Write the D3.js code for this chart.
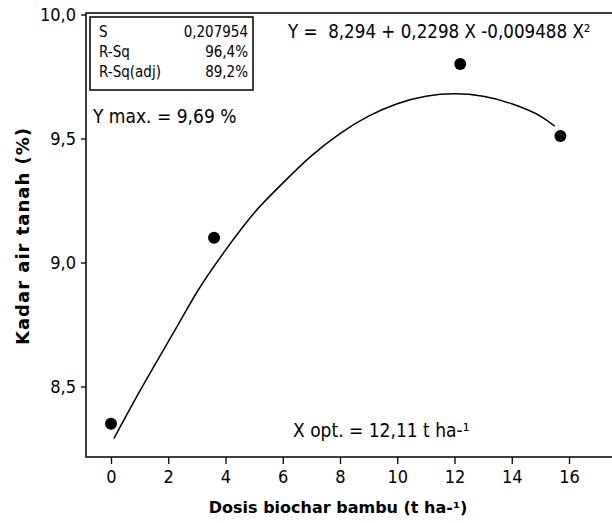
<!DOCTYPE html>
<html><head><meta charset="utf-8">
<script src="https://cdn.jsdelivr.net/npm/d3@7"></script>
<style>body{margin:0;background:#fff}svg{display:block}text{font-family:"DejaVu Sans Condensed","DejaVu Sans",sans-serif;fill:#000}</style>
</head><body>
<script>
const obsX = [0, 3.6, 12.2, 15.7];
const obsY = [8.35, 9.10, 9.80, 9.51];
const fitX = [0.1, 1, 2.3, 3, 4, 5, 6, 7, 8, 9, 10, 11, 12, 13, 14, 15, 15.5];
const fitY = [8.29, 8.48, 8.74, 8.88, 9.05, 9.20, 9.32, 9.43, 9.52, 9.59, 9.64, 9.67, 9.68, 9.67, 9.64, 9.59, 9.55];
const xTicks = [0, 2, 4, 6, 8, 10, 12, 14, 16];
const yTicks = [8.5, 9.0, 9.5, 10.0];
const statLabels = ["S", "R-Sq", "R-Sq(adj)"];
const statValues = ["0,207954", "96,4%", "89,2%"];

const W = 612, H = 523;
const L = 86, T = 13, R = 614, B = 457;
const svg = d3.select("body").append("svg").attr("width", W).attr("height", H);

const x = d3.scaleLinear().domain([0, 16]).range([111, 569]);
const y = d3.scaleLinear().domain([8.5, 10.0]).range([386.5, 14.5]);

svg.append("rect").attr("x", L).attr("y", T).attr("width", R - L).attr("height", B - T)
  .attr("fill", "none").attr("stroke", "#000").attr("stroke-width", 1.5);

const fmt = d => d3.format(".1f")(d).replace(".", ",");
const gx = svg.append("g").attr("transform", `translate(0,${B})`)
  .call(d3.axisBottom(x).tickValues(xTicks).tickSize(7).tickPadding(6).tickFormat(d3.format("d")));
const gy = svg.append("g").attr("transform", `translate(${L},0)`)
  .call(d3.axisLeft(y).tickValues(yTicks).tickSize(5).tickPadding(5).tickFormat(fmt));
[gx, gy].forEach(g => {
  g.select(".domain").remove();
  g.selectAll("line").attr("stroke", "#000").attr("stroke-width", 1.3);
  g.selectAll("text").style("font-size", "18px").attr("fill", "#000");
});

svg.append("path").datum(fitX.map((d, i) => [d, fitY[i]]))
  .attr("d", d3.line().x(d => x(d[0])).y(d => y(d[1])).curve(d3.curveMonotoneX))
  .attr("fill", "none").attr("stroke", "#000").attr("stroke-width", 1.5);

svg.selectAll("circle.pt").data(obsX.map((d, i) => [d, obsY[i]])).enter()
  .append("circle").attr("class", "pt").attr("cx", d => x(d[0])).attr("cy", d => y(d[1]))
  .attr("r", 6).attr("fill", "#000");

svg.append("rect").attr("x", 90).attr("y", 17).attr("width", 163).attr("height", 73)
  .attr("fill", "#fff").attr("stroke", "#000").attr("stroke-width", 1.5);
statLabels.forEach((s, i) => {
  svg.append("text").attr("x", 99).attr("y", 37 + i * 20).style("font-size", "15px").text(s);
  svg.append("text").attr("x", 248).attr("y", 37 + i * 20).attr("text-anchor", "end").style("font-size", "15px").text(statValues[i]);
});

svg.append("text").attr("x", 93).attr("y", 123).style("font-size", "19px").text("Y max. = 9,69 %");
svg.append("text").attr("x", 288).attr("y", 38).style("font-size", "18.6px").attr("xml:space", "preserve")
  .text("Y =  8,294 + 0,2298 X -0,009488 X²");
svg.append("text").attr("x", 293).attr("y", 437).style("font-size", "19px").text("X opt. = 12,11 t ha-¹");

svg.append("text").attr("x", 338).attr("y", 513).attr("text-anchor", "middle")
  .style("font-size", "16px").style("font-weight", "bold").style("font-family", "'DejaVu Sans', sans-serif")
  .text("Dosis biochar bambu (t ha-¹)");
svg.append("text").attr("transform", "translate(29,236) rotate(-90)").attr("text-anchor", "middle")
  .style("font-size", "18px").style("font-weight", "bold").style("letter-spacing", "1px").style("font-family", "'DejaVu Sans', sans-serif")
  .text("Kadar air tanah (%)");
</script>
</body></html>
